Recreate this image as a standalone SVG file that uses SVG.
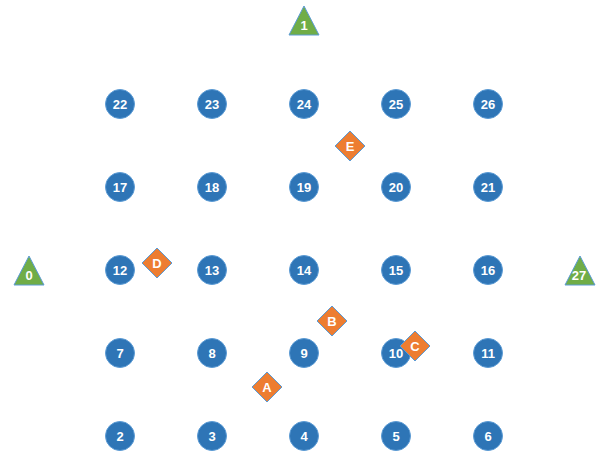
<svg xmlns="http://www.w3.org/2000/svg" width="599" height="454" viewBox="0 0 599 454">
<style>
.c{fill:#2E75B6;stroke:#5B9BD5;stroke-width:1}
.t{fill:#70AD47;stroke:#5B9BD5;stroke-width:1}
.d{fill:#ED7D31;stroke:#5B9BD5;stroke-width:1}
text{fill:#fff;font-family:"Liberation Sans",Arial,sans-serif;font-weight:bold;font-size:13px;text-anchor:middle;dominant-baseline:central}
</style>
<rect width="599" height="454" fill="#fff"/>
<g id="connectors"></g>
<g id="n22"><circle class="c" cx="120" cy="104" r="14.5"/><text x="120" y="104">22</text></g>
<g id="n23"><circle class="c" cx="212" cy="104" r="14.5"/><text x="212" y="104">23</text></g>
<g id="n24"><circle class="c" cx="304" cy="104" r="14.5"/><text x="304" y="104">24</text></g>
<g id="n25"><circle class="c" cx="396" cy="104" r="14.5"/><text x="396" y="104">25</text></g>
<g id="n26"><circle class="c" cx="488" cy="104" r="14.5"/><text x="488" y="104">26</text></g>
<g id="n17"><circle class="c" cx="120" cy="187" r="14.5"/><text x="120" y="187">17</text></g>
<g id="n18"><circle class="c" cx="212" cy="187" r="14.5"/><text x="212" y="187">18</text></g>
<g id="n19"><circle class="c" cx="304" cy="187" r="14.5"/><text x="304" y="187">19</text></g>
<g id="n20"><circle class="c" cx="396" cy="187" r="14.5"/><text x="396" y="187">20</text></g>
<g id="n21"><circle class="c" cx="488" cy="187" r="14.5"/><text x="488" y="187">21</text></g>
<g id="n12"><circle class="c" cx="120" cy="270" r="14.5"/><text x="120" y="270">12</text></g>
<g id="n13"><circle class="c" cx="212" cy="270" r="14.5"/><text x="212" y="270">13</text></g>
<g id="n14"><circle class="c" cx="304" cy="270" r="14.5"/><text x="304" y="270">14</text></g>
<g id="n15"><circle class="c" cx="396" cy="270" r="14.5"/><text x="396" y="270">15</text></g>
<g id="n16"><circle class="c" cx="488" cy="270" r="14.5"/><text x="488" y="270">16</text></g>
<g id="n7"><circle class="c" cx="120" cy="353" r="14.5"/><text x="120" y="353">7</text></g>
<g id="n8"><circle class="c" cx="212" cy="353" r="14.5"/><text x="212" y="353">8</text></g>
<g id="n9"><circle class="c" cx="304" cy="353" r="14.5"/><text x="304" y="353">9</text></g>
<g id="n10"><circle class="c" cx="396" cy="353" r="14.5"/><text x="396" y="353">10</text></g>
<g id="n11"><circle class="c" cx="488" cy="353" r="14.5"/><text x="488" y="353">11</text></g>
<g id="n2"><circle class="c" cx="120" cy="436" r="14.5"/><text x="120" y="436">2</text></g>
<g id="n3"><circle class="c" cx="212" cy="436" r="14.5"/><text x="212" y="436">3</text></g>
<g id="n4"><circle class="c" cx="304" cy="436" r="14.5"/><text x="304" y="436">4</text></g>
<g id="n5"><circle class="c" cx="396" cy="436" r="14.5"/><text x="396" y="436">5</text></g>
<g id="n6"><circle class="c" cx="488" cy="436" r="14.5"/><text x="488" y="436">6</text></g>
<g id="n1"><polygon class="t" points="304,6 319,35 289,35"/><text x="304" y="25">1</text></g>
<g id="n0"><polygon class="t" points="29,256 44,285 14,285"/><text x="29" y="275">0</text></g>
<g id="n27"><polygon class="t" points="580,256 595,285 565,285"/><text x="579" y="275">27</text></g>
<g id="dE"><polygon class="d" points="350,131 365,146 350,161 335,146"/><text x="350" y="146">E</text></g>
<g id="dD"><polygon class="d" points="157,248 172,263 157,278 142,263"/><text x="157" y="263">D</text></g>
<g id="dB"><polygon class="d" points="332,306 347,321 332,336 317,321"/><text x="332" y="321">B</text></g>
<g id="dC"><polygon class="d" points="415,331 430,346 415,361 400,346"/><text x="415" y="346">C</text></g>
<g id="dA"><polygon class="d" points="267,372 282,387 267,402 252,387"/><text x="267" y="387">A</text></g>
</svg>
